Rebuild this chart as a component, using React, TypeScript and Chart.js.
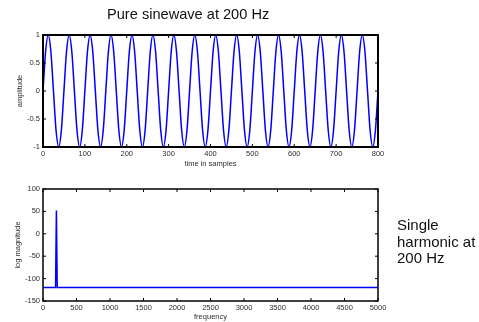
import { useEffect, useRef } from "react";
import { Chart, registerables } from "chart.js";

Chart.register(...registerables);

const FONT = "'Liberation Sans', Arial, Helvetica, sans-serif";

// Time-domain signal: sample index and amplitude (8 readings per cycle)
const sampleIndex = [
  0, 6.25, 12.5, 18.75, 25, 31.25, 37.5, 43.75,
  50, 56.25, 62.5, 68.75, 75, 81.25, 87.5, 93.75,
  100, 106.25, 112.5, 118.75, 125, 131.25, 137.5, 143.75,
  150, 156.25, 162.5, 168.75, 175, 181.25, 187.5, 193.75,
  200, 206.25, 212.5, 218.75, 225, 231.25, 237.5, 243.75,
  250, 256.25, 262.5, 268.75, 275, 281.25, 287.5, 293.75,
  300, 306.25, 312.5, 318.75, 325, 331.25, 337.5, 343.75,
  350, 356.25, 362.5, 368.75, 375, 381.25, 387.5, 393.75,
  400, 406.25, 412.5, 418.75, 425, 431.25, 437.5, 443.75,
  450, 456.25, 462.5, 468.75, 475, 481.25, 487.5, 493.75,
  500, 506.25, 512.5, 518.75, 525, 531.25, 537.5, 543.75,
  550, 556.25, 562.5, 568.75, 575, 581.25, 587.5, 593.75,
  600, 606.25, 612.5, 618.75, 625, 631.25, 637.5, 643.75,
  650, 656.25, 662.5, 668.75, 675, 681.25, 687.5, 693.75,
  700, 706.25, 712.5, 718.75, 725, 731.25, 737.5, 743.75,
  750, 756.25, 762.5, 768.75, 775, 781.25, 787.5, 793.75,
  800,
];

const amplitude = [
  0, 0.71, 1, 0.71, 0, -0.71, -1, -0.71,
  0, 0.71, 1, 0.71, 0, -0.71, -1, -0.71,
  0, 0.71, 1, 0.71, 0, -0.71, -1, -0.71,
  0, 0.71, 1, 0.71, 0, -0.71, -1, -0.71,
  0, 0.71, 1, 0.71, 0, -0.71, -1, -0.71,
  0, 0.71, 1, 0.71, 0, -0.71, -1, -0.71,
  0, 0.71, 1, 0.71, 0, -0.71, -1, -0.71,
  0, 0.71, 1, 0.71, 0, -0.71, -1, -0.71,
  0, 0.71, 1, 0.71, 0, -0.71, -1, -0.71,
  0, 0.71, 1, 0.71, 0, -0.71, -1, -0.71,
  0, 0.71, 1, 0.71, 0, -0.71, -1, -0.71,
  0, 0.71, 1, 0.71, 0, -0.71, -1, -0.71,
  0, 0.71, 1, 0.71, 0, -0.71, -1, -0.71,
  0, 0.71, 1, 0.71, 0, -0.71, -1, -0.71,
  0, 0.71, 1, 0.71, 0, -0.71, -1, -0.71,
  0, 0.71, 1, 0.71, 0, -0.71, -1, -0.71,
  0,
];

// Spectrum: frequency (Hz) and log magnitude
const frequency = [0, 187.5, 200, 212.5, 5000];
const logMagnitude = [-120, -120, 52, -120, -120];

// Axis ranges and tick steps
const timeRange = [0, 800, 100];
const ampRange = [-1, 1, 0.5];
const freqRange = [0, 5000, 500];
const magRange = [-150, 100, 50];

const TICK_FONT = { family: FONT, size: 7.5 };
const TITLE_FONT = { family: FONT, size: 7.5 };
const TICK_COLOR = "#2e2e2e";
const LINE_BLUE = "#0000ff";

// Frame around the plot area with inward tick marks on all four sides
const boxedAxes = {
  id: "boxedAxes",
  afterDraw(chart: any, _args: any, opts: any) {
    const { ctx, chartArea: a, scales } = chart;
    const len = 3;
    ctx.save();
    ctx.strokeStyle = "#000";
    ctx.lineWidth = 1;
    ctx.beginPath();
    for (const t of scales.x.ticks) {
      const px = scales.x.getPixelForValue(t.value);
      ctx.moveTo(px, a.bottom);
      ctx.lineTo(px, a.bottom - len);
      ctx.moveTo(px, a.top);
      ctx.lineTo(px, a.top + len);
    }
    for (const t of scales.y.ticks) {
      const py = scales.y.getPixelForValue(t.value);
      ctx.moveTo(a.left, py);
      ctx.lineTo(a.left + len, py);
      ctx.moveTo(a.right, py);
      ctx.lineTo(a.right - len, py);
    }
    ctx.stroke();
    ctx.lineWidth = opts.frameWidth ?? 1.5;
    ctx.strokeRect(a.left, a.top, a.right - a.left, a.bottom - a.top);
    ctx.restore();
  },
};

function axes(
  xr: number[],
  yr: number[],
  xTitle: string,
  yTitle: string,
  xAxisHeight: number,
  xTitlePad: number,
  yTitlePad: number
) {
  const fmt = (v: any) => String(v);
  return {
    x: {
      type: "linear",
      min: xr[0],
      max: xr[1],
      grid: { display: false, drawTicks: false },
      border: { display: false },
      ticks: {
        stepSize: xr[2],
        autoSkip: false,
        maxRotation: 0,
        padding: 2,
        color: TICK_COLOR,
        font: TICK_FONT,
        callback: fmt,
      },
      title: {
        display: true,
        text: xTitle,
        color: TICK_COLOR,
        font: TITLE_FONT,
        padding: { top: 0, bottom: xTitlePad },
      },
      afterFit(scale: any) {
        scale.height = xAxisHeight;
      },
    },
    y: {
      type: "linear",
      min: yr[0],
      max: yr[1],
      grid: { display: false, drawTicks: false },
      border: { display: false },
      ticks: {
        stepSize: yr[2],
        autoSkip: false,
        padding: 3,
        color: TICK_COLOR,
        font: TICK_FONT,
        callback: fmt,
      },
      title: {
        display: true,
        text: yTitle,
        color: TICK_COLOR,
        font: TITLE_FONT,
        padding: { top: yTitlePad, bottom: 0 },
      },
      afterFit(scale: any) {
        scale.width = 43;
      },
    },
  };
}

export default function App() {
  const topRef = useRef<HTMLCanvasElement>(null);
  const bottomRef = useRef<HTMLCanvasElement>(null);

  useEffect(() => {
    const common = {
      responsive: false,
      maintainAspectRatio: false,
      animation: false,
      devicePixelRatio: 1,
      events: [],
    };

    const wave = new Chart(topRef.current!, {
      type: "line",
      data: {
        datasets: [
          {
            data: sampleIndex.map((x, i) => ({ x, y: amplitude[i] })),
            borderColor: LINE_BLUE,
            borderWidth: 1.5,
            pointRadius: 0,
            cubicInterpolationMode: "monotone",
            fill: false,
          },
        ],
      },
      options: {
        ...common,
        layout: { padding: { left: 0, right: 101, top: 35, bottom: 0 } },
        plugins: {
          legend: { display: false },
          tooltip: { enabled: false },
          boxedAxes: { frameWidth: 2 },
        },
        scales: axes(timeRange, ampRange, "time in samples", "amplitude", 25, 3.5, 15.5),
      } as any,
      plugins: [boxedAxes],
    });

    const spectrum = new Chart(bottomRef.current!, {
      type: "line",
      data: {
        datasets: [
          {
            data: frequency.map((x, i) => ({ x, y: logMagnitude[i] })),
            borderColor: LINE_BLUE,
            borderWidth: 1.5,
            pointRadius: 0,
            tension: 0,
            fill: false,
          },
        ],
      },
      options: {
        ...common,
        layout: { padding: { left: 0, right: 101, top: 17, bottom: 0 } },
        plugins: {
          legend: { display: false },
          tooltip: { enabled: false },
          boxedAxes: { frameWidth: 1.5 },
        },
        scales: axes(freqRange, magRange, "frequency", "log magnitude", 21, 1, 13.5),
      } as any,
      plugins: [boxedAxes],
    });

    return () => {
      wave.destroy();
      spectrum.destroy();
    };
  }, []);

  return (
    <div
      style={{
        position: "fixed",
        left: 0,
        top: 0,
        width: 479,
        height: 322,
        background: "#fff",
        fontFamily: FONT,
        color: "#111",
        overflow: "hidden",
      }}
    >
      <canvas ref={topRef} width={479} height={172} style={{ position: "absolute", left: 0, top: 0 }} />
      <canvas ref={bottomRef} width={479} height={150} style={{ position: "absolute", left: 0, top: 172 }} />
      <div
        style={{
          position: "absolute",
          left: 107,
          top: 6,
          fontSize: 14.6,
          lineHeight: "16px",
          whiteSpace: "nowrap",
        }}
      >
        Pure sinewave at 200 Hz
      </div>
      <div
        style={{
          position: "absolute",
          left: 397,
          top: 217,
          fontSize: 15,
          lineHeight: "16.5px",
          whiteSpace: "nowrap",
        }}
      >
        Single
        <br />
        harmonic at
        <br />
        200 Hz
      </div>
    </div>
  );
}
